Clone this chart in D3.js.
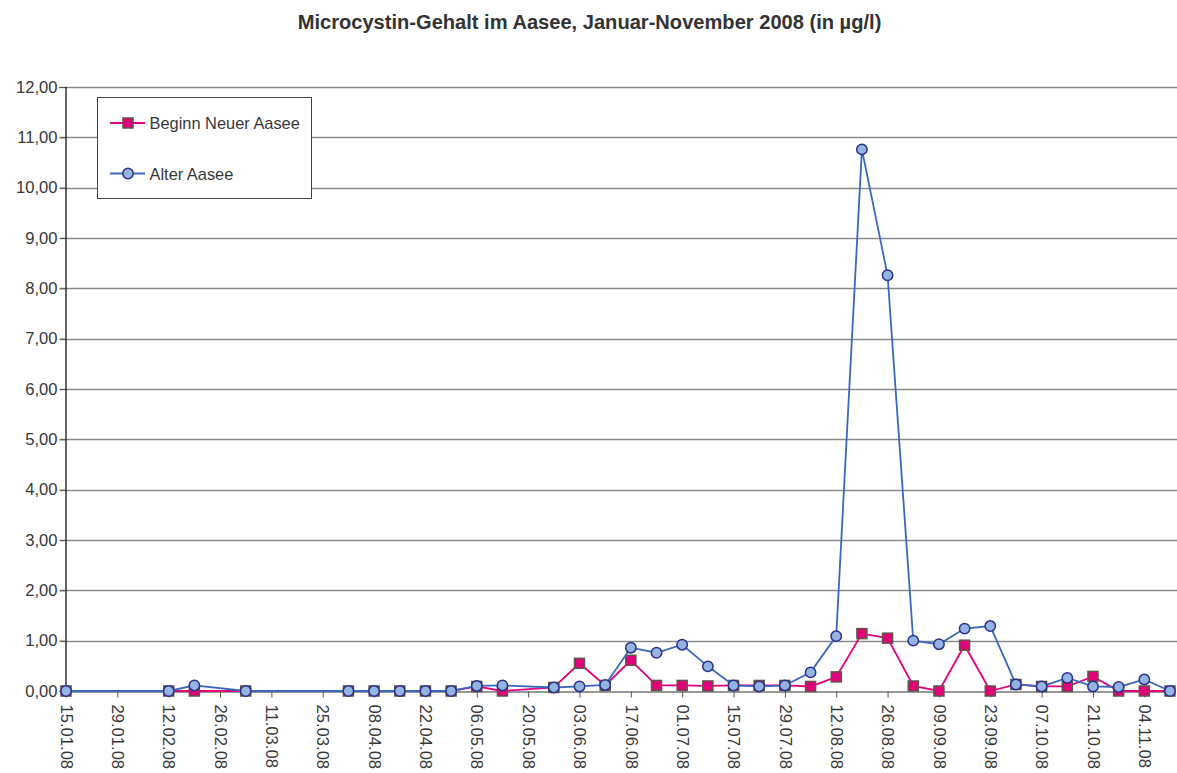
<!DOCTYPE html>
<html>
<head>
<meta charset="utf-8">
<script src="https://cdn.jsdelivr.net/npm/d3@7"></script>
<style>
  html, body { margin: 0; padding: 0; background: #fff; }
  svg { display: block; font-family: "Liberation Sans", Arial, sans-serif; }
</style>
</head>
<body>
<svg id="chart" width="1177" height="773"></svg>
<script>
// ---- data ----
const titleText = "Microcystin-Gehalt im Aasee, Januar-November 2008 (in µg/l)";
const seriesNames = ["Beginn Neuer Aasee", "Alter Aasee"];
const sampleDates = [
  "15.01.08","12.02.08","19.02.08","04.03.08","01.04.08","08.04.08","15.04.08",
  "22.04.08","29.04.08","06.05.08","13.05.08","27.05.08","03.06.08","10.06.08",
  "17.06.08","24.06.08","01.07.08","08.07.08","15.07.08","22.07.08","29.07.08",
  "05.08.08","12.08.08","19.08.08","26.08.08","02.09.08","09.09.08","16.09.08",
  "23.09.08","30.09.08","07.10.08","14.10.08","21.10.08","28.10.08","04.11.08","11.11.08"
];
const neuerAasee = [
  0, 0, 0, 0, 0, 0, 0,
  0, 0, 0.09, 0, 0.07, 0.55, 0.11,
  0.61, 0.11, 0.11, 0.10, 0.11, 0.11, 0.11,
  0.09, 0.28, 1.14, 1.05, 0.10, 0, 0.91,
  0, 0.13, 0.09, 0.09, 0.29, 0, 0, 0
];
const alterAasee = [
  0, 0, 0.11, 0, 0, 0, 0,
  0, 0, 0.10, 0.11, 0.07, 0.09, 0.12,
  0.86, 0.76, 0.92, 0.49, 0.11, 0.09, 0.11,
  0.37, 1.09, 10.76, 8.26, 1.00, 0.93, 1.24,
  1.29, 0.13, 0.09, 0.26, 0.09, 0.08, 0.23, 0
];
const xTickLabels = [
  "15.01.08","29.01.08","12.02.08","26.02.08","11.03.08","25.03.08","08.04.08",
  "22.04.08","06.05.08","20.05.08","03.06.08","17.06.08","01.07.08","15.07.08",
  "29.07.08","12.08.08","26.08.08","09.09.08","23.09.08","07.10.08","21.10.08","04.11.08"
];
const yTickValues = [0,1,2,3,4,5,6,7,8,9,10,11,12];
const xDomainLabels = ["15.01.08", "11.11.08"];

// ---- setup ----
const parse = d3.timeParse("%d.%m.%y");
const locale = d3.formatLocale({decimal: ",", thousands: ".", grouping: [3], currency: ["", "€"]});
const fmtY = locale.format(".2f");

const svg = d3.select("#chart");
const W = 1177;
const plot = {left: 66, right: 1170, top: 87, bottom: 691};

const x = d3.scaleTime()
  .domain(xDomainLabels.map(parse))
  .range([plot.left, plot.right]);
const y = d3.scaleLinear().domain([0, 12]).range([plot.bottom, plot.top]);

const textColor = "#383838";
const fontFam = "'Liberation Sans', Arial, sans-serif";

// title
svg.append("text")
  .attr("x", 589.5).attr("y", 29)
  .attr("text-anchor", "middle")
  .attr("font-size", 20.1)
  .attr("font-weight", "bold")
  .attr("fill", "#333")
  .text(titleText);

// gridlines
svg.append("g").selectAll("line")
  .data(yTickValues.filter(v => v > 0))
  .join("line")
  .attr("x1", plot.left - 6).attr("x2", W)
  .attr("y1", d => Math.round(y(d)) + 0.5).attr("y2", d => Math.round(y(d)) + 0.5)
  .attr("stroke", "#8a8a8a").attr("stroke-width", 1.3);

// y axis
const yAxis = d3.axisLeft(y).tickValues(yTickValues).tickFormat(fmtY).tickSize(6).tickPadding(2);
const gy = svg.append("g").attr("transform", `translate(${plot.left - 0.5},0)`).call(yAxis);
gy.select(".domain").attr("stroke", "#000").attr("stroke-width", 1.2);
gy.selectAll(".tick line").attr("stroke", "#555");
gy.selectAll(".tick text").attr("font-size", 16.6).attr("fill", textColor)
  .attr("font-family", fontFam);

// x axis
const xAxis = d3.axisBottom(x)
  .tickValues(xTickLabels.map(parse))
  .tickFormat(d3.timeFormat("%d.%m.%y"))
  .tickSize(6).tickSizeOuter(0);
const gx = svg.append("g").attr("transform", `translate(0,${Math.round(y(0)) + 0.5})`).call(xAxis);
gx.select(".domain").attr("stroke", "#333").attr("stroke-width", 1.2);
gx.selectAll(".tick line").attr("stroke", "#555");
gx.selectAll(".tick text")
  .attr("font-size", 16.6).attr("fill", textColor)
  .attr("font-family", fontFam)
  .attr("text-anchor", "start")
  .attr("transform", "rotate(90)")
  .attr("x", 13).attr("y", 0).attr("dy", "0.35em");

// series
const pts = (vals) => sampleDates.map((d, i) => ({date: parse(d), v: vals[i]}));
const line = d3.line().x(d => x(d.date)).y(d => y(d.v));

const redLine = "#e5007d", redFill = "#e3007b", redStroke = "#5e5647";
const blueLine = "#3a68bd", blueFill = "#93b3e0", blueStroke = "#2b2f8e";

const neu = pts(neuerAasee);
svg.append("path").datum(neu).attr("d", line)
  .attr("fill", "none").attr("stroke", redLine).attr("stroke-width", 1.8);
svg.append("g").selectAll("rect").data(neu).join("rect")
  .attr("x", d => x(d.date) - 5).attr("y", d => y(d.v) - 5)
  .attr("width", 10).attr("height", 10)
  .attr("fill", redFill).attr("stroke", redStroke).attr("stroke-width", 1.5);

const alt = pts(alterAasee);
svg.append("path").datum(alt).attr("d", line)
  .attr("fill", "none").attr("stroke", blueLine).attr("stroke-width", 1.8);
svg.append("g").selectAll("circle").data(alt).join("circle")
  .attr("cx", d => x(d.date)).attr("cy", d => y(d.v)).attr("r", 5.2)
  .attr("fill", blueFill).attr("stroke", blueStroke).attr("stroke-width", 1.5);

// legend
const lg = svg.append("g");
lg.append("rect").attr("x", 97.5).attr("y", 97.5).attr("width", 214).attr("height", 101)
  .attr("fill", "#fff").attr("stroke", "#444").attr("stroke-width", 1);
// entry 1
lg.append("line").attr("x1", 110).attr("x2", 145).attr("y1", 123).attr("y2", 123)
  .attr("stroke", redLine).attr("stroke-width", 1.8);
lg.append("rect").attr("x", 123).attr("y", 118).attr("width", 10).attr("height", 10)
  .attr("fill", redFill).attr("stroke", redStroke).attr("stroke-width", 1.5);
lg.append("text").attr("x", 149.5).attr("y", 129.3).attr("font-size", 16.4).attr("fill", textColor)
  .text(seriesNames[0]);
// entry 2
lg.append("line").attr("x1", 110).attr("x2", 145).attr("y1", 173.5).attr("y2", 173.5)
  .attr("stroke", blueLine).attr("stroke-width", 1.8);
lg.append("circle").attr("cx", 128).attr("cy", 173.5).attr("r", 5.2)
  .attr("fill", blueFill).attr("stroke", blueStroke).attr("stroke-width", 1.5);
lg.append("text").attr("x", 149.5).attr("y", 180).attr("font-size", 16.4).attr("fill", textColor)
  .text(seriesNames[1]);
</script>
</body>
</html>
